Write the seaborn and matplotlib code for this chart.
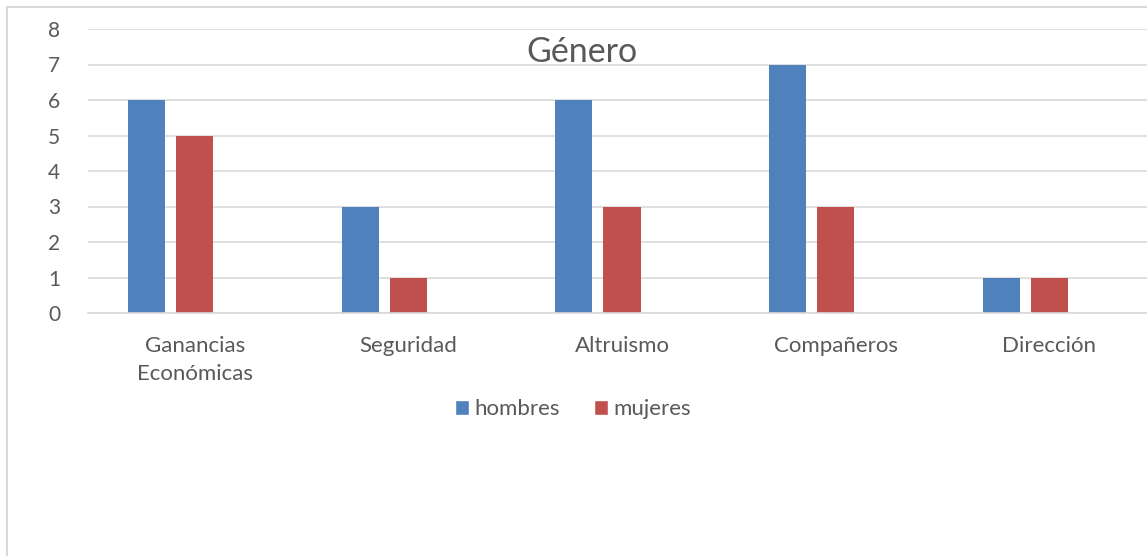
import numpy as np
import pandas as pd
import matplotlib.pyplot as plt
import seaborn as sns
from matplotlib.patches import Rectangle, Patch

categorias = ['Ganancias\nEconómicas', 'Seguridad', 'Altruismo', 'Compañeros', 'Dirección']
hombres = [6, 3, 6, 7, 1]
mujeres = [5, 1, 3, 3, 1]
vacio = [0, 0, 0, 0, 0]  # empty third series slot (as in the original chart)

df = pd.DataFrame({
    'categoria': categorias * 3,
    'serie': ['hombres'] * 5 + ['mujeres'] * 5 + ['_'] * 5,
    'valor': hombres + mujeres + vacio,
})

sns.set_theme(style="white")
plt.rcParams['font.family'] = ['Lato', 'DejaVu Sans']

gris = '#595959'
azul = '#4f81bd'
rojo = '#c0504d'

fig = plt.figure(figsize=(11.47, 5.56), dpi=100)
ax = fig.add_axes([88 / 1147, 1 - 313 / 556, (1156 - 88) / 1147, 284 / 556])

sns.barplot(data=df, x='categoria', y='valor', hue='serie',
            hue_order=['hombres', 'mujeres', '_'],
            palette=[azul, rojo, 'white'], saturation=1, width=0.6745, gap=0.229,
            linewidth=0, legend=False, ax=ax)

ax.set_ylim(0, 8)
ax.set_xlim(-0.5, 4.5)
ax.set_yticks(range(0, 9))
ax.yaxis.grid(True, color='#d9d9d9', linewidth=1.2)
ax.set_axisbelow(True)
for s in ['top', 'right', 'left']:
    ax.spines[s].set_visible(False)
ax.spines['bottom'].set_color('#d9d9d9')
ax.spines['bottom'].set_linewidth(1.2)
ax.tick_params(axis='both', length=0, colors=gris)
ax.tick_params(axis='y', pad=20, labelsize=15)
ax.tick_params(axis='x', pad=16.5, labelsize=16)
for lbl in ax.get_xticklabels():
    lbl.set_linespacing(1.5)
ax.set_xlabel('')
ax.set_ylabel('')

fig.text(582 / 1147, 1 - 52 / 556, 'Género', ha='center', va='center',
         fontsize=24.5, color=gris)

handles = [Patch(facecolor=azul, label='hombres'), Patch(facecolor=rojo, label='mujeres')]
fig.legend(handles=handles, loc='center', bbox_to_anchor=(573 / 1147, 1 - 409 / 556),
           ncol=2, frameon=False, fontsize=16, labelcolor=gris,
           handlelength=0.65, handleheight=0.65, handletextpad=0.25, columnspacing=1.5)

fig.patches.append(Rectangle((7 / 1147, -0.1), 1.2, 1 - 7 / 556 + 0.1,
                             transform=fig.transFigure, fill=False,
                             edgecolor='#d9d9d9', linewidth=1.5))

fig.savefig('out.png', dpi=100)
